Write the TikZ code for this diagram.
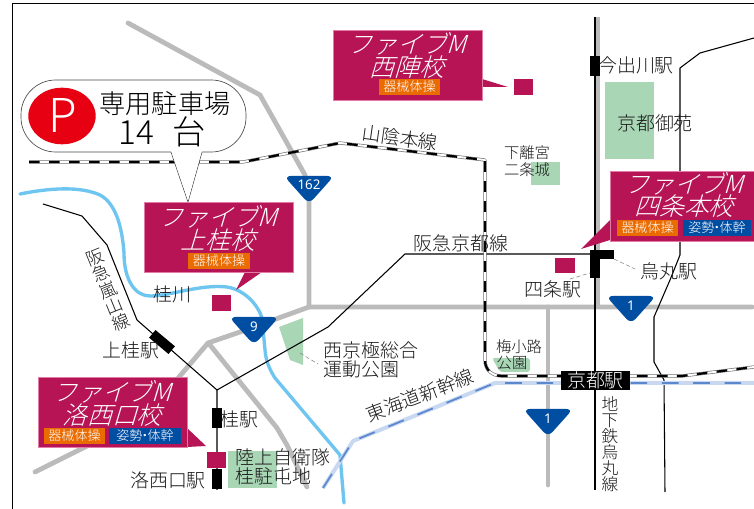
\documentclass[tikz,border=0pt]{standalone}
\usepackage{fontspec}
\newfontfamily\jp{Noto Sans CJK JP Light}
\newfontfamily\jpsl[FakeSlant=0.3]{Noto Sans CJK JP Light}
\setmainfont{Noto Sans}
\definecolor{mag}{HTML}{B61454}
\definecolor{magedge}{HTML}{E27CA6}
\definecolor{roadgray}{HTML}{BBBBBB}
\definecolor{parkgreen}{HTML}{A9D6B5}
\definecolor{rivblue}{HTML}{6EC6F0}
\definecolor{signblue}{HTML}{004EA2}
\definecolor{tagor}{HTML}{EA6B00}
\definecolor{shinblue}{HTML}{5B87CF}
\definecolor{shinpale}{HTML}{C8D8F0}
\definecolor{pred}{HTML}{E60012}
\tikzset{
  road/.style={draw=roadgray,line width=3.6pt,line cap=round,line join=round},
  river/.style={draw=rivblue,line width=2.5pt,line cap=round,line join=round},
  thinrail/.style={draw=black,line width=0.8pt,line join=round},
  park/.style={fill=parkgreen,draw=none},
  jrcase/.style={draw=black!55,line width=2.4pt,line join=round},
  jrwhite/.style={draw=white,line width=1.4pt,line join=round},
  jrdash/.style={draw=black,line width=1.7pt,dash pattern=on 8pt off 7pt,line join=round},
  shincase/.style={draw=shinpale,line width=3pt,line join=round},
  shindash/.style={draw=shinblue,line width=1.3pt,dash pattern=on 12.5pt off 11pt,line join=round},
  schoolbox/.style={fill=mag,draw=magedge,line width=0.5pt},
  marksq/.style={fill=mag,draw=none},
  stationblk/.style={fill=black,draw=none,inner sep=0pt,minimum width=7.5pt,minimum height=15pt},
  tagor/.style={fill=tagor,text=white,inner sep=0pt,minimum height=12pt,font=\jp\fontsize{9.8}{10}\selectfont},
  tagbl/.style={fill=signblue,text=white,inner sep=0pt,minimum height=12pt,font=\jp\fontsize{9.8}{10}\selectfont},
  schooltxt/.style={text=white,inner sep=0pt,font=\jpsl\fontsize{18.6}{19}\selectfont},
  lab/.style={text=black!90,inner sep=0pt,font=\jp\fontsize{14.2}{14}\selectfont},
  labsm/.style={text=black!90,inner sep=0pt,font=\jp\fontsize{11.5}{11}\selectfont},
  signtxt/.style={text=white,inner sep=0pt,font=\fontsize{10}{10}\selectfont},
  leader/.style={draw=black!50,line width=0.4pt,densely dashed},
  signshape/.style={fill=signblue,draw=none,rounded corners=5pt}
}
\newcommand\rsign[5]{% name, x, top y, text
  \fill[signshape] (#2-25,#3) -- (#2+25,#3) -- (#2,#3+28) -- cycle;
  \node[signtxt] (#1) at (#2,#3+#5) {#4};
}
\def\jrpath{(29,162) -- (243,162) -- (340,143) -- (485,160) -- (485,360) .. controls (485,370) and (492,376) .. (502,376) -- (682,376) -- (754,367)}
\def\shinpath{(323,488) -- (353,441) -- (495,383) -- (754,383)}
\begin{document}
\begin{tikzpicture}[x=0.75pt,y=-0.75pt]
\useasboundingbox (0,0) rectangle (754,509);
\fill[white] (0,0) rectangle (754,509);
% frame
\draw[black,line width=1.1pt] (12.5,509) -- (12.5,3.5) -- (754,3.5);
% parks
\fill[park] (605,82) rectangle (654,159);
\fill[park] (531,162) rectangle (560,185);
\fill[park,rounded corners=2pt] (492,358) -- (530,358) -- (530,372) -- (500,372) -- cycle;
\fill[park] (279,327) -- (303,318) -- (303,365) -- (290,360) -- cycle;
\fill[park] (228,451) rectangle (277,488);
% roads
\draw[road] (128,23) -- (260,95) -- (305,175) -- (309,200) -- (309,307);
\draw[road] (752,307) -- (309,307) -- (240,332) -- (208,343) -- (145,417) -- (35,472);
\draw[road] (210,345) -- (277,428) -- (287,445) -- (307,487);
\draw[road] (548,307) -- (548,485);
\draw[road,line cap=butt,line width=2.6pt] (598,17) -- (598,307);
% river
\draw[river] (20,194) .. controls (50,188) and (80,186) .. (100,195)
  .. controls (115,203) and (122,225) .. (124,253)
  .. controls (124,280) and (135,296) .. (150,296)
  .. controls (170,296) and (200,284) .. (227,287)
  .. controls (245,290) and (258,305) .. (262,318)
  -- (265,350) .. controls (266,362) and (270,370) .. (275,378)
  -- (340,455) -- (344,503);
% subway and other rails
\draw[thinrail] (43,204) -- (82,216) -- (107,245) -- (137,320) -- (217,390) -- (217,490);
\draw[thinrail] (217,390) -- (328,327) -- (405,254) -- (600,254);
\draw[thinrail] (754,38) -- (700,53) -- (680,68) -- (680,255) -- (670,280) -- (654,317) -- (654,362) -- (664,380) -- (665,492);
\draw[black,line width=2.2pt] (595,17) -- (595,307);
\draw[thinrail] (595,307) -- (595,490);
% JR
\draw[jrcase] \jrpath;
\draw[jrwhite] \jrpath;
\draw[jrdash] \jrpath;
% Shinkansen
\draw[shincase] \shinpath;
\draw[shindash] \shinpath;
% leaders
\draw[leader] (300,353) -- (318,364);
\draw[leader] (570,279) -- (590,273);
\draw[leader] (614,259) -- (635,269);
% stations
\node[stationblk,rotate=-40,minimum width=19pt,minimum height=7.5pt] (kamikatsurast) at (162,342) {};
\node[stationblk] (katsurast) at (216.5,418) {};
\node[stationblk] (rakusaist) at (216.5,479) {};
\node[stationblk] (imadegawast) at (595,66) {};
\fill[black] (590,250) rectangle (600,278);
\fill[black] (590,250) rectangle (614,259);
% signs
\rsign{s162}{309}{176}{162}{8.5}
\rsign{s9}{254}{317}{9}{9.5}
\rsign{s1a}{631}{296}{1}{9.5}
\rsign{s1b}{548}{409}{1}{9.5}
% callout
\draw[fill=white,draw=black!70,line width=0.5pt,rounded corners=26pt]
  (21,80) rectangle (246,152);
\draw[fill=white,draw=black!70,line width=0.5pt,line join=miter]
  (171,152) -- (188,202) -- (202,152);
\fill[white] (171.4,150) rectangle (201.6,152.4);
\fill[white] (171.5,152) -- (188,200.5) -- (201.5,152) -- cycle;
\fill[pred] (62,116) ellipse [x radius=33.7,y radius=28.3];
\node[text=white,inner sep=0pt,font=\jp\fontsize{35}{35}\selectfont] (pmark) at (63,115) {P};
\node[inner sep=0pt,font=\jp\fontsize{19.7}{19}\selectfont] (park1) at (165,104) {専用駐車場};
\node[inner sep=0pt,font=\jp\fontsize{25}{25}\selectfont] (park2) at (162,132) {14\hspace{8pt} 台};
% school boxes
\fill[mag] (482,79) -- (508,87) -- (482,87) -- cycle;
\draw[schoolbox] (333,30) rectangle (482,100);
\fill[marksq] (514,79) rectangle (533,95);
\node[schooltxt] (a1) at (407,44) {ファイブM};
\node[schooltxt] (a2) at (407,67) {西陣校};
\node[tagor,minimum width=46pt] (a3) at (409.5,87) {器械体操};

\fill[mag] (262,272) -- (236,290) -- (245,272) -- cycle;
\draw[schoolbox] (144,202) rectangle (293,272);
\fill[marksq] (212,295) rectangle (231,311);
\node[schooltxt] (b1) at (218,217) {ファイブM};
\node[schooltxt] (b2) at (218,240) {上桂校};
\node[tagor,minimum width=46pt] (b3) at (219,261) {器械体操};

\fill[mag] (187,428) -- (206,446) -- (187,447) -- cycle;
\draw[schoolbox] (38,377) rectangle (187,447);
\fill[marksq] (207,452) rectangle (226,468);
\node[schooltxt] (c1) at (112,392) {ファイブM};
\node[schooltxt] (c2) at (112,415) {洛西口校};
\node[tagor,minimum width=46pt] (c3) at (74.5,436) {器械体操};
\node[tagbl,minimum width=54pt] (c4) at (145,436) {姿勢\kern-.3em・\kern-.3em体幹};

\fill[mag] (610,220) -- (581,249) -- (610,240) -- cycle;
\draw[schoolbox] (610,171) rectangle (756,241);
\fill[marksq] (555,258) rectangle (575,273);
\node[schooltxt] (d1) at (684,184) {ファイブM};
\node[schooltxt] (d2) at (684,206) {四条本校};
\node[tagor,minimum width=46pt] (d3) at (647.5,228) {器械体操};
\node[tagbl,minimum width=51pt] (d4) at (717,228) {姿勢\kern-.3em・\kern-.3em体幹};
% labels
\node[lab,rotate=-8] (l1) at (400,138) {山陰本線};
\node[labsm] (l2) at (527,153) {下離宮};
\node[labsm] (l3) at (527,170) {二条城};
\node[lab] (l4) at (636,65) {今出川駅};
\node[lab] (l5) at (655,123) {京都御苑};
\node[lab] (l6) at (461,243) {阪急京都線};
\node[lab] (l7) at (669,271) {烏丸駅};
\node[lab] (l8) at (553,289) {四条駅};
\node[lab,anchor=west] (l9) at (323,350) {西京極総合};
\node[lab,anchor=west] (l10) at (323,369) {運動公園};
\node[labsm] (l11) at (519,347) {梅小路};
\node[labsm] (l12) at (512,363) {公園};
\node[fill=black,text=white,inner sep=0pt,minimum width=52pt,minimum height=14.5pt,font=\jp\fontsize{14.2}{14}\selectfont] (kyotost) at (595.5,380.5) {京都駅};
\node[lab,align=center,font=\jp\fontsize{12.5}{12}\selectfont] (l13) at (610,444) {地\\下\\鉄\\烏\\丸\\線};
\node[lab,rotate=21] (l14) at (420,395.5) {東海道新幹線};
\node[lab] (l15) at (172,294) {桂川};
\node[lab,rotate=22,align=center,font=\jp\fontsize{13}{13}\selectfont] (l16) at (108,290) {阪\\急\\嵐\\山\\線};
\node[lab] (l17) at (131,350) {上桂駅};
\node[lab] (l18) at (239,419) {桂駅};
\node[lab] (l19) at (168,480) {洛西口駅};
\node[lab,anchor=west] (l20) at (235,457) {陸上自衛隊};
\node[lab,anchor=west] (l21) at (235,476) {桂駐屯地};
\end{tikzpicture}
\end{document}
